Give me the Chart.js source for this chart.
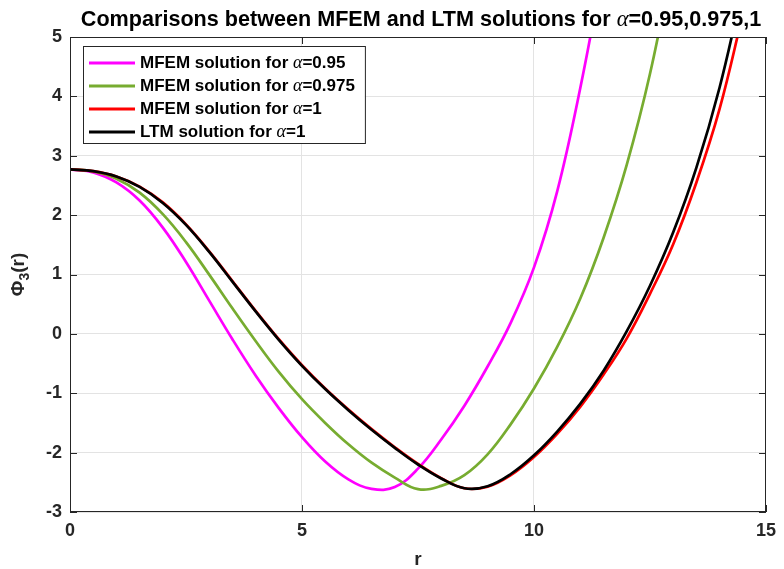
<!DOCTYPE html>
<html>
<head>
<meta charset="utf-8">
<script src="https://cdn.jsdelivr.net/npm/chart.js@4.4.0/dist/chart.umd.min.js"></script>
<style>
    html, body { margin: 0; padding: 0; background: #ffffff; }
    #wrap { width: 784px; height: 569px; position: relative; }
</style>
</head>
<body>
<div id="wrap"><canvas id="phiChart" width="784" height="569"></canvas></div>
<script>
// r values (shared grid)
const rValues = [0, 0.5, 1, 1.5, 2, 2.5, 3, 3.5, 4, 4.5, 5, 5.5, 6, 6.5, 7, 7.5, 8, 8.5, 9, 9.5, 10, 10.5, 11, 11.5, 12, 12.5, 13, 13.5, 14, 14.5];

const mfem095 = [2.77, 2.72, 2.55, 2.245, 1.79, 1.21, 0.56, -0.09, -0.70, -1.25, -1.74, -2.15, -2.45, -2.61, -2.58, -2.27, -1.78, -1.21, -0.55, 0.19, 1.12, 2.40, 4.15, 6.2];
const mfem0975 = [2.77, 2.734, 2.612, 2.378, 2.016, 1.546, 0.998, 0.43, -0.12, -0.64, -1.10, -1.50, -1.86, -2.17, -2.42, -2.615, -2.56, -2.38, -2.03, -1.52, -0.92, -0.22, 0.60, 1.62, 2.85, 4.38, 6.3];
const mfem1 = [2.77, 2.74, 2.65, 2.48, 2.215, 1.845, 1.39, 0.89, 0.388, -0.09, -0.528, -0.92, -1.275, -1.605, -1.91, -2.19, -2.43, -2.60, -2.575, -2.38, -2.075, -1.685, -1.225, -0.685, -0.075, 0.675, 1.51, 2.55, 3.79, 5.38];
const ltm1 = [2.77, 2.74, 2.65, 2.475, 2.205, 1.835, 1.38, 0.88, 0.378, -0.10, -0.538, -0.93, -1.285, -1.615, -1.92, -2.20, -2.435, -2.60, -2.565, -2.36, -2.045, -1.645, -1.175, -0.62, 0.045, 0.81, 1.71, 2.80, 4.15, 5.83];

const seriesLabels = ["MFEM solution for α=0.95", "MFEM solution for α=0.975", "MFEM solution for α=1", "LTM solution for α=1"];
const seriesColors = ["#ff00ff", "#77ac30", "#ff0000", "#000000"];

const xTicks = [0, 5, 10, 15];
const yTicks = [-3, -2, -1, 0, 1, 2, 3, 4, 5];

const titleText = "Comparisons between MFEM and LTM solutions for α=0.95,0.975,1";

const SANS = '"Liberation Sans", Arial, Helvetica, sans-serif';
const SERIF = '"Liberation Serif", "Times New Roman", serif';
const AXIS_COLOR = "#262626";

function toPoints(values) {
    return values.map((v, i) => ({ x: rValues[i], y: v }));
}

// draws a string where every α is italic serif
function drawMixed(ctx, text, x, y, size, measureOnly) {
    const parts = text.split("α");
    let w = 0;
    parts.forEach((p, i) => {
        ctx.font = "bold " + size + "px " + SANS;
        if (!measureOnly) ctx.fillText(p, x + w, y);
        w += ctx.measureText(p).width;
        if (i < parts.length - 1) {
            ctx.font = "italic " + (size + 1) + "px " + SERIF;
            if (!measureOnly) ctx.fillText("α", x + w, y);
            w += ctx.measureText("α").width;
        }
    });
    return w;
}

const matlabDecor = {
    id: "matlabDecor",
    afterDatasetsDraw(chart) {
        const { ctx, chartArea: a, scales: { x, y } } = chart;
        ctx.save();

        // box and inward ticks
        ctx.strokeStyle = AXIS_COLOR;
        ctx.lineWidth = 1;
        ctx.strokeRect(Math.round(a.left) + 0.5, Math.round(a.top) + 0.5,
            Math.round(a.width) - 1, Math.round(a.height) - 1);

        ctx.beginPath();
        xTicks.forEach(v => {
            const px = Math.round(x.getPixelForValue(v)) + 0.5;
            ctx.moveTo(px, a.bottom);
            ctx.lineTo(px, a.bottom - 7);
            ctx.moveTo(px, a.top);
            ctx.lineTo(px, a.top + 7);
        });
        yTicks.forEach(v => {
            const py = Math.round(y.getPixelForValue(v)) + 0.5;
            ctx.moveTo(a.left, py);
            ctx.lineTo(a.left + 7, py);
            ctx.moveTo(a.right, py);
            ctx.lineTo(a.right - 7, py);
        });
        ctx.stroke();

        // legend
        const lx = a.left + 13;
        const ly = a.top + 9;
        const rowH = 23;
        ctx.textBaseline = "middle";
        let maxW = 0;
        seriesLabels.forEach(t => {
            maxW = Math.max(maxW, drawMixed(ctx, t, 0, 0, 17, true));
        });
        const boxW = 57 + maxW + 10;
        const boxH = rowH * seriesLabels.length + 5;
        ctx.fillStyle = "#ffffff";
        ctx.fillRect(lx, ly, boxW, boxH);
        ctx.strokeStyle = AXIS_COLOR;
        ctx.strokeRect(lx + 0.5, ly + 0.5, boxW, boxH);

        seriesLabels.forEach((t, i) => {
            const cy = ly + 17 + i * rowH;
            ctx.strokeStyle = seriesColors[i];
            ctx.lineWidth = 3;
            ctx.beginPath();
            ctx.moveTo(lx + 6, cy);
            ctx.lineTo(lx + 52, cy);
            ctx.stroke();
            ctx.fillStyle = "#000000";
            drawMixed(ctx, t, lx + 57, cy, 17, false);
        });

        // title
        ctx.fillStyle = "#000000";
        ctx.textBaseline = "alphabetic";
        const tw = drawMixed(ctx, titleText, 0, 0, 21.6, true);
        const cx = (a.left + a.right) / 2 + 3;
        drawMixed(ctx, titleText, cx - tw / 2, 26, 21.6, false);

        // y axis title with subscript
        const cyMid = (a.top + a.bottom) / 2;
        ctx.translate(0, cyMid);
        ctx.rotate(-Math.PI / 2);
        ctx.fillStyle = AXIS_COLOR;
        ctx.font = "bold 19px " + SANS;
        const w1 = ctx.measureText("Φ").width;
        const w3 = ctx.measureText("(r)").width;
        ctx.font = "bold 14px " + SANS;
        const w2 = ctx.measureText("3").width;
        let sx = -(w1 + w2 + w3) / 2;
        ctx.font = "bold 19px " + SANS;
        ctx.fillText("Φ", sx, 24);
        ctx.font = "bold 14px " + SANS;
        ctx.fillText("3", sx + w1, 29);
        ctx.font = "bold 19px " + SANS;
        ctx.fillText("(r)", sx + w1 + w2, 24);

        ctx.restore();
    }
};

const ctx = document.getElementById("phiChart").getContext("2d");

const chart = new Chart(ctx, {
    type: "line",
    data: {
        datasets: [
            { label: seriesLabels[0], data: toPoints(mfem095), borderColor: seriesColors[0], order: 4 },
            { label: seriesLabels[1], data: toPoints(mfem0975), borderColor: seriesColors[1], order: 3 },
            { label: seriesLabels[2], data: toPoints(mfem1), borderColor: seriesColors[2], order: 2 },
            { label: seriesLabels[3], data: toPoints(ltm1), borderColor: seriesColors[3], order: 1 }
        ]
    },
    options: {
        responsive: false,
        animation: false,
        parsing: false,
        layout: {
            padding: { left: 30, right: 11, top: 37, bottom: 0 }
        },
        elements: {
            point: { radius: 0 },
            line: { borderWidth: 2.7, tension: 0.4, fill: false }
        },
        plugins: {
            legend: { display: false },
            title: { display: false },
            tooltip: { enabled: false }
        },
        scales: {
            x: {
                type: "linear",
                min: 0,
                max: 15,
                afterFit: scale => { scale.height = 57; },
                afterBuildTicks: scale => { scale.ticks = xTicks.map(v => ({ value: v })); },
                grid: { color: "#e3e3e3", drawTicks: false },
                border: { display: false },
                ticks: {
                    color: AXIS_COLOR,
                    padding: 8,
                    font: { family: SANS, size: 18, weight: "bold" }
                },
                title: {
                    display: true,
                    text: "r",
                    color: AXIS_COLOR,
                    padding: 0,
                    font: { family: SANS, size: 19, weight: "bold", lineHeight: 1 }
                }
            },
            y: {
                type: "linear",
                min: -3,
                max: 5,
                afterFit: scale => { scale.width = 40; },
                afterBuildTicks: scale => { scale.ticks = yTicks.map(v => ({ value: v })); },
                grid: { color: "#e3e3e3", drawTicks: false },
                border: { display: false },
                ticks: {
                    color: AXIS_COLOR,
                    padding: 8,
                    font: { family: SANS, size: 18, weight: "bold" }
                }
            }
        }
    },
    plugins: [matlabDecor]
});
</script>
</body>
</html>
